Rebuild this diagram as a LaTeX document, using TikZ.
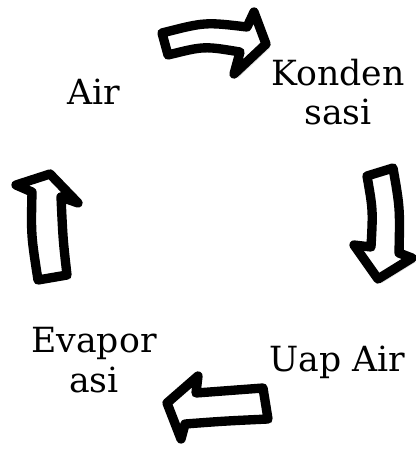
\documentclass[tikz,border=0pt]{standalone}
\usepackage{fontspec}
\setmainfont{DejaVu Serif}
\usetikzlibrary{shadows}

\begin{document}
\begin{tikzpicture}[x=0.75pt, y=-0.75pt, line join=round,
  blockarrow/.style={draw=black, line width=7pt, fill=white,
    drop shadow={shadow xshift=3pt, shadow yshift=-3pt, opacity=0.25}},
  label/.style={align=center, anchor=base, inner sep=0pt,
    font=\fontsize{26}{29.5}\selectfont}]

\useasboundingbox (0,0) rectangle (416,449);

% the four stages
\node [label] at (93.5,105) (air) {Air};
\node [label] at (338,125) (kond) {Konden\\sasi};
\node [label] at (337.5,371) (uap) {Uap Air};
\node [label] at (94,392) (evap) {Evapor\\asi};

% block arrows round the cycle
\draw [blockarrow] (162,33) .. controls (205,22) .. (247,27) -- (254,12) -- (266,44)
  -- (234,74) -- (240,52) .. controls (204,46) .. (168,55) -- cycle;
\draw [blockarrow] (367,176) -- (393,168) .. controls (400,208) .. (399,253) -- (412,258)
  -- (378,279) -- (354,245) -- (371,247) .. controls (373,210) .. cycle;
\draw [blockarrow] (167,403) -- (198,376) -- (196,393) .. controls (230,391) .. (263,388)
  -- (268,419) .. controls (225,421) .. (185,424) -- (181,439) -- cycle;
\draw [blockarrow] (50,174) -- (78,203) -- (61,197) .. controls (63,240) .. (67,275)
  -- (38,280) .. controls (31,235) .. (32,192) -- (16,185) -- cycle;
\end{tikzpicture}
\end{document}
